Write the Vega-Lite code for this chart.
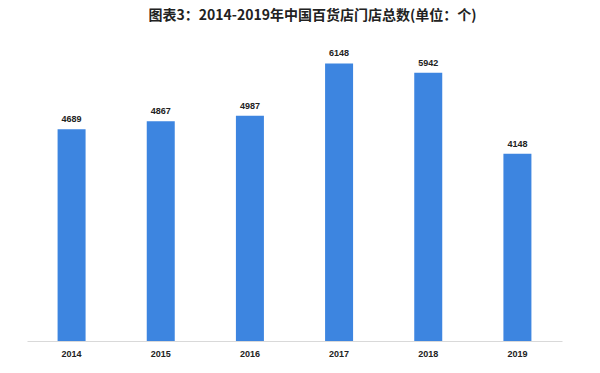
{
  "$schema": "https://vega.github.io/schema/vega-lite/v6.json",
  "autosize": "none",
  "width": 535,
  "height": 316,
  "padding": {"left": 27, "top": 25, "right": 38, "bottom": 32},
  "background": "white",
  "title": {
    "text": "图表3：2014-2019年中国百货店门店总数(单位：个)",
    "font": "Noto Sans CJK SC",
    "fontSize": 14,
    "fontWeight": "bold",
    "color": "#222222",
    "anchor": "middle",
    "dx": 18,
    "offset": 2
  },
  "data": {
    "values": [
      {"year": "2014", "count": 4689},
      {"year": "2015", "count": 4867},
      {"year": "2016", "count": 4987},
      {"year": "2017", "count": 6148},
      {"year": "2018", "count": 5942},
      {"year": "2019", "count": 4148}
    ]
  },
  "encoding": {
    "x": {
      "field": "year",
      "type": "ordinal",
      "scale": {"paddingInner": 0.686, "paddingOuter": 0.343},
      "axis": {
        "title": null,
        "labelAngle": 0,
        "labelFont": "Liberation Sans",
        "labelFontWeight": "bold",
        "labelFontSize": 9,
        "labelColor": "#222222",
        "labelPadding": 8,
        "ticks": false,
        "domainColor": "#d9d9d9",
        "domainWidth": 1
      }
    },
    "y": {
      "field": "count",
      "type": "quantitative",
      "scale": {"domain": [0, 7000]},
      "axis": null
    }
  },
  "layer": [
    {"mark": {"type": "bar", "color": "#3d85e0"}},
    {
      "mark": {"type": "text", "dy": -10, "font": "Liberation Sans", "fontWeight": "bold", "fontSize": 9, "color": "#222222"},
      "encoding": {"text": {"field": "count", "type": "quantitative", "format": "d"}}
    }
  ],
  "config": {"view": {"stroke": null}}
}
